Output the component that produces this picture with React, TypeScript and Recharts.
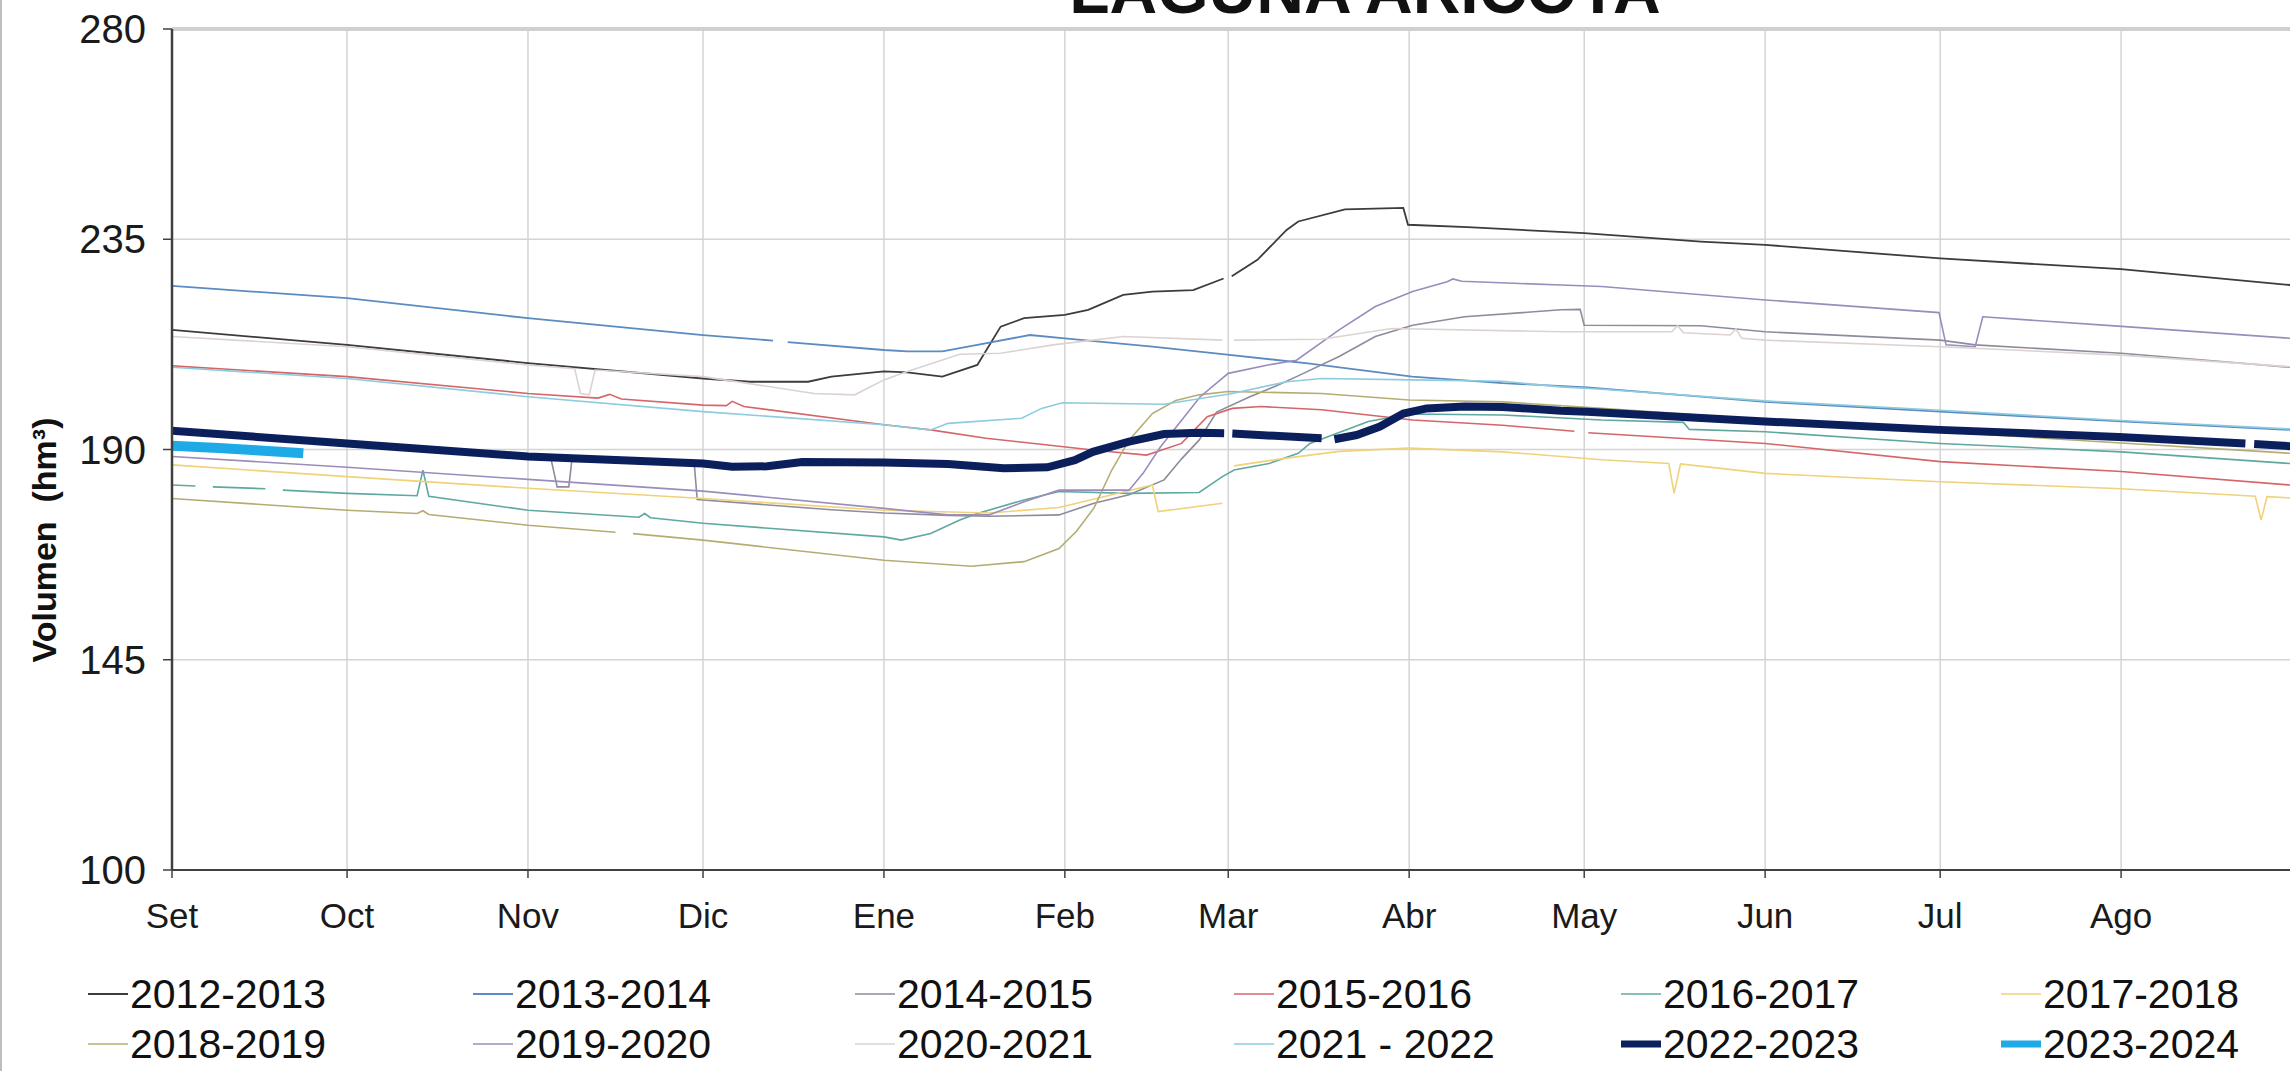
import React from "react";
import { LineChart, Line, XAxis, YAxis, CartesianGrid, ReferenceLine } from "recharts";

type Pt = [number, number | null];

// eje X en días desde el 1 de setiembre
const months = ["Set", "Oct", "Nov", "Dic", "Ene", "Feb", "Mar", "Abr", "May", "Jun", "Jul", "Ago"];
const monthStarts = [0, 30, 61, 91, 122, 153, 181, 212, 242, 273, 303, 334];
const yTicks = [100, 145, 190, 235, 280];

const v2012: Pt[] = [[0, 215.6], [30, 212.4], [61, 208.5], [91, 205.2], [99, 204.5], [109, 204.5], [113, 205.6], [122, 206.7], [126, 206.5], [132, 205.6], [138, 208.1], [142, 216.3], [146, 218.1], [153, 218.8], [157, 219.9], [163, 223.1], [168, 223.8], [175, 224.1], [180.2, 226.6], [180.8, null], [181.6, 227.1], [186, 230.6], [191, 237], [193, 238.8], [201, 241.4], [211, 241.7], [211.8, 238.1], [222, 237.6], [242, 236.3], [262, 234.5], [273, 233.8], [303, 230.9], [334, 228.6], [363, 225.2], [365, 225]];
const v2013: Pt[] = [[0, 225], [30, 222.4], [61, 218.1], [91, 214.5], [103, 213.3], [104, null], [105.5, 213], [122, 211.3], [126, 211], [132, 211], [138, 212.4], [147, 214.5], [153, 213.8], [168, 212], [180, 210.4], [195, 208.4], [212.5, 205.6], [228, 204.2], [242.5, 203.3], [273, 200.2], [303, 198.1], [334, 196], [363, 194.2], [365, 194]];
const v2014: Pt[] = [[0, 193.6], [30, 190.9], [61, 188.1], [65, 187.7], [66, 182], [68, 182], [68.5, 187.5], [89.5, 186.9], [90, 179.3], [113, 177.1], [122, 176.4], [133, 175.9], [140, 175.7], [152, 176], [158, 178.5], [164, 180.3], [170, 183.5], [173, 188], [176, 192], [179, 198], [184.7, 201.3], [189, 203.5], [192.7, 205.6], [200, 209.9], [206.2, 214.2], [212.6, 216.6], [221.5, 218.4], [238, 219.9], [241.3, 220], [242, 216.6], [262, 216.5], [273, 215.2], [303, 213.4], [309, 212.4], [334, 210.6], [363, 207.6], [365, 207.4]];
const v2015: Pt[] = [[0, 207.9], [30, 205.6], [61, 202], [73, 201], [75, 201.8], [77, 200.8], [91, 199.5], [95, 199.4], [96, 200.3], [98, 199.2], [122, 195.3], [130, 194.2], [139.5, 192.4], [157.8, 189.9], [167, 188.8], [173, 191.3], [177.4, 197], [181.7, 198.8], [186.6, 199.2], [197, 198.5], [212.6, 196.3], [228, 195.2], [240.3, 193.9], [241.3, null], [242.7, 193.6], [273, 191.3], [303, 187.4], [334, 185.3], [363, 182.4], [365, 182.2]];
const v2016: Pt[] = [[0, 182.4], [4, 182.2], [5, null], [7, 182], [16, 181.6], [17, null], [19, 181.3], [30, 180.6], [42, 180.1], [43, 185.6], [44, 180], [61, 177], [80, 175.5], [81, 176.3], [82, 175.4], [91, 174.2], [122, 171.3], [125, 170.6], [130, 172], [135, 174.9], [138, 176.3], [146, 179.2], [152, 181], [164, 180.6], [176, 180.8], [180, 184.2], [182, 185.6], [188, 187], [193, 189.2], [195, 191.3], [205, 196], [212, 197.6], [228, 197.4], [245, 196.3], [259, 195.8], [260, 194.3], [273, 193.8], [303, 191.3], [334, 189.5], [363, 187], [365, 186.8]];
const v2017: Pt[] = [[0, 186.7], [30, 184.2], [61, 181.7], [91, 179.5], [122, 177], [140, 176.4], [152, 177.6], [160, 180], [168, 182.4], [169, 176.7], [180, 178.5], [181, null], [182, 186.5], [190, 188], [200, 189.6], [212, 190.3], [228, 189.5], [245, 187.8], [256.5, 187], [257.4, 180.6], [258.5, 186.9], [273, 184.9], [303, 183.1], [334, 181.6], [357, 180], [358, 174.9], [359, 179.9], [365, 179.5]];
const v2018: Pt[] = [[0, 179.5], [30, 177], [42, 176.3], [43, 176.9], [44, 176.1], [61, 173.8], [76, 172.3], [77, null], [79, 172], [91, 170.6], [122, 166.3], [137, 165], [146, 166], [152, 168.8], [155, 172.5], [158, 177.5], [161, 185.5], [164, 192], [168, 197.7], [172, 200.5], [176, 201.7], [181, 202.4], [197, 202], [212, 200.6], [228, 200.2], [245, 198.8], [273, 196.4], [303, 193.8], [334, 191.4], [363, 189.2], [365, 189]];
const v2019: Pt[] = [[0, 188.5], [30, 186.2], [61, 183.6], [91, 181.1], [122, 177.4], [133, 176], [140, 176], [146, 178.8], [152, 181.3], [164, 181.3], [166.4, 184.9], [169.4, 190.6], [176.2, 201.3], [181, 206.3], [187.8, 208.1], [192.7, 209.1], [200, 215.6], [206.2, 220.6], [212.6, 223.8], [218.5, 225.9], [219.5, 226.5], [221, 226], [238, 225.2], [245, 224.9], [273, 222], [302.8, 219.3], [304, 212.4], [309, 212], [310.3, 218.4], [333.5, 216.4], [363, 213.8], [365, 213.6]];
const v2020: Pt[] = [[0, 214.2], [30, 212], [61, 208.1], [69, 207.3], [70, 202], [71.5, 201.7], [72.5, 207], [91, 205.6], [110, 202], [117, 201.7], [122, 204.9], [126, 206.7], [135, 210.4], [142, 210.6], [151, 212.4], [163, 214.2], [180, 213.4], [181, null], [182, 213.4], [197, 213.6], [209, 215.9], [238, 215.2], [257, 215.2], [258, 216.5], [259, 215], [267, 214.5], [268, 215.8], [269, 213.8], [273, 213.4], [303, 212], [334, 210.2], [363, 207.7], [365, 207.5]];
const v2021: Pt[] = [[0, 207.6], [30, 205.2], [61, 201.3], [91, 198.1], [122, 195.3], [130, 194.2], [133, 195.6], [145.6, 196.7], [149, 198.8], [152.6, 200], [170, 199.7], [181.7, 202], [191, 204.5], [197, 205.2], [212.6, 204.9], [228, 204.6], [238, 203.4], [245, 202.9], [273, 200.4], [303, 198.4], [334, 196.2], [363, 194.4], [365, 194.2]];
const v2022: Pt[] = [[0, 194], [30, 191.3], [61, 188.5], [91, 187], [96, 186.3], [102, 186.4], [108, 187.3], [122, 187.2], [133, 186.9], [142.5, 186], [150, 186.2], [154.7, 187.7], [157.8, 189.5], [164, 191.7], [170, 193.3], [176, 193.6], [180.3, 193.5], [181, null], [181.7, 193.4], [197, 192.4], [198.3, null], [199.2, 192.2], [203, 193.1], [207, 194.9], [211, 197.7], [215, 198.8], [221.5, 199.2], [228, 199.1], [238, 198.3], [242.5, 198.1], [273, 196], [303, 194.2], [333.6, 192.7], [355.3, 191.3], [356, null], [356.8, 191.2], [363, 190.7], [365, 190.6]];
const v2023: Pt[] = [[0, 190.8], [8, 190.3], [15, 189.8], [22.5, 189.2]];

const names = ["2012-2013", "2013-2014", "2014-2015", "2015-2016", "2016-2017", "2017-2018", "2018-2019", "2019-2020", "2020-2021", "2021 - 2022", "2022-2023", "2023-2024"];
const values = [v2012, v2013, v2014, v2015, v2016, v2017, v2018, v2019, v2020, v2021, v2022, v2023];
const colors = ["#3c3c3c", "#5b8bc0", "#8d8c9c", "#d4666a", "#5fa89e", "#efd27a", "#b4ad72", "#9a8cbc", "#ddd2d2", "#8ccbe0", "#0b1f5c", "#1eaae6"];
const widths = [1.8, 1.8, 1.6, 1.6, 1.6, 1.6, 1.6, 1.6, 1.6, 1.6, 8, 10];

const font = "'Liberation Sans', Arial, sans-serif";

const series = names.map((name, i) => ({
  name,
  color: colors[i],
  width: widths[i],
  data: values[i].map(([d, v]) => ({ d, v })),
}));

// posiciones de la leyenda (2 filas x 6)
const legendCols = [88, 473, 855, 1234, 1621, 2001];
const legendRows = [994, 1044];

export default function App() {
  return (
    <div style={{ position: "absolute", left: 0, top: 0, width: 2290, height: 1071, overflow: "hidden", background: "#fff" }}>
      <LineChart width={2310} height={1071} margin={{ top: 29, right: 8, bottom: 0, left: 0 }}>
        <CartesianGrid stroke="#d4d4d4" strokeWidth={1.5} />
        <XAxis
          type="number"
          dataKey="d"
          domain={[0, 365]}
          ticks={monthStarts}
          interval={0}
          allowDataOverflow
          height={201}
          tickFormatter={(v) => months[monthStarts.indexOf(v)]}
          tick={{ fontSize: 35, fill: "#1a1a1a", fontFamily: font }}
          tickSize={8}
          tickMargin={25}
          axisLine={{ stroke: "#404040", strokeWidth: 2 }}
          tickLine={{ stroke: "#404040", strokeWidth: 1.5 }}
        />
        <YAxis
          type="number"
          domain={[100, 280]}
          ticks={yTicks}
          interval={0}
          width={172}
          tick={{ fontSize: 40, fill: "#1a1a1a", fontFamily: font }}
          tickSize={9}
          tickMargin={17}
          axisLine={{ stroke: "#404040", strokeWidth: 2.5 }}
          tickLine={{ stroke: "#404040", strokeWidth: 1.5 }}
        />
        <ReferenceLine y={280} stroke="#d0d0d0" strokeWidth={4} />
        {series.map((s) => (
          <Line
            key={s.name}
            data={s.data}
            dataKey="v"
            name={s.name}
            type="linear"
            stroke={s.color}
            strokeWidth={s.width}
            dot={false}
            activeDot={false}
            connectNulls={false}
            isAnimationActive={false}
          />
        ))}
      </LineChart>
      <svg width={2290} height={1071} style={{ position: "absolute", left: 0, top: 0, pointerEvents: "none" }}>
        <line x1={1} y1={0} x2={1} y2={1071} stroke="#bdbdbd" strokeWidth={2} />
        <text x={1365} y={13} textAnchor="middle" fontFamily={font} fontWeight="bold" fontSize={66} fill="#111">
          LAGUNA ARICOTA
        </text>
        <text
          transform="translate(56,540) rotate(-90)"
          textAnchor="middle"
          fontFamily={font}
          fontWeight="bold"
          fontSize={34}
          fill="#111"
          style={{ whiteSpace: "pre" }}
        >
          Volumen  (hm³)
        </text>
        {series.map((s, i) => {
          const x = legendCols[i % 6];
          const y = legendRows[Math.floor(i / 6)];
          return (
            <g key={s.name}>
              <line x1={x} y1={y} x2={x + 40} y2={y} stroke={s.color} strokeWidth={Math.min(s.width, 7)} />
              <text x={x + 42} y={y} dominantBaseline="central" fontFamily={font} fontSize={41} fill="#111">
                {s.name}
              </text>
            </g>
          );
        })}
      </svg>
    </div>
  );
}
